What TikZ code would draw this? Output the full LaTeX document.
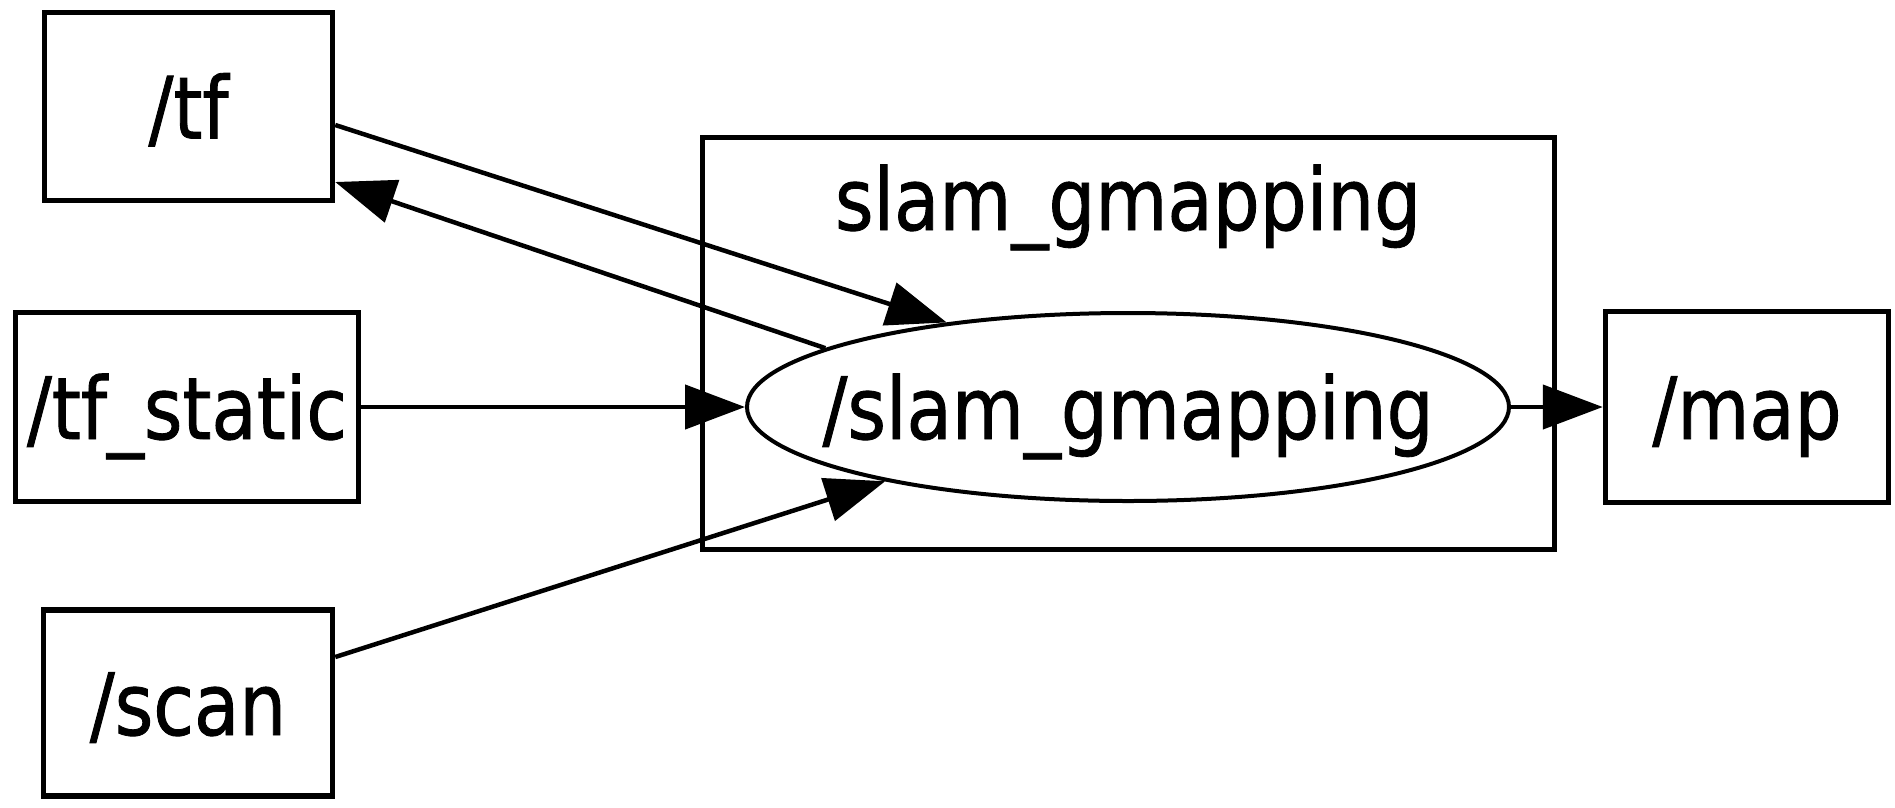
\documentclass[tikz,border=0pt]{standalone}
\usepackage{fontspec}
\setmainfont[FakeStretch=0.86,FakeBold=1]{DejaVu Sans}
\usetikzlibrary{arrows.meta,shapes.geometric}

\begin{document}
\begin{tikzpicture}[x=1pt,y=-1pt,
  lbl/.style={font=\fontsize{86}{90}\selectfont},
  topic/.style={draw, rectangle, line width=5.5pt, inner sep=0pt,
    text height=70pt, text depth=6pt, lbl},
  rosnode/.style={draw, ellipse, line width=4pt, inner sep=0pt,
    text height=70pt, text depth=6pt, lbl},
  cluster/.style={draw, rectangle, line width=5pt, inner sep=0pt},
  link/.style={line width=4.5pt, -{Triangle[length=60pt,width=44pt]}}]

\useasboundingbox (0,0) rectangle (1895,807);
\fill[white] (0,0) rectangle (1895,807);

% group box and its title
\node[cluster, minimum width=852pt, minimum height=412pt] (grp) at (1128.5,343.5) {};
\node[lbl, anchor=base] (grplbl) at (1128,230) {slam\_gmapping};

% topics
\node[topic, minimum width=288pt, minimum height=188pt] (tf)   at (188.5,106.5) {/tf};
\node[topic, minimum width=343pt, minimum height=189pt] (tfs)  at (187,407)    {/tf\_static};
\node[topic, minimum width=289pt, minimum height=186pt] (scan) at (188,703)    {/scan};
\node[topic, minimum width=283pt, minimum height=191pt] (map)  at (1747,407)   {/map};

% node
\node[rosnode, minimum width=762pt, minimum height=188pt] (gm) at (1128,407)
  {\makebox[0pt]{/slam\_gmapping}};

% connections
\draw[link] ([yshift=-18.5pt]tf.east) -- (gm.155);
\draw[link] (gm.169) -- ([yshift=-75.5pt]tf.east);
\draw[link] (tfs) -- (gm);
\draw[link] ([yshift=46pt]scan.east) -- (gm.197);
\draw[link] (gm) -- (map);
\end{tikzpicture}
\end{document}
